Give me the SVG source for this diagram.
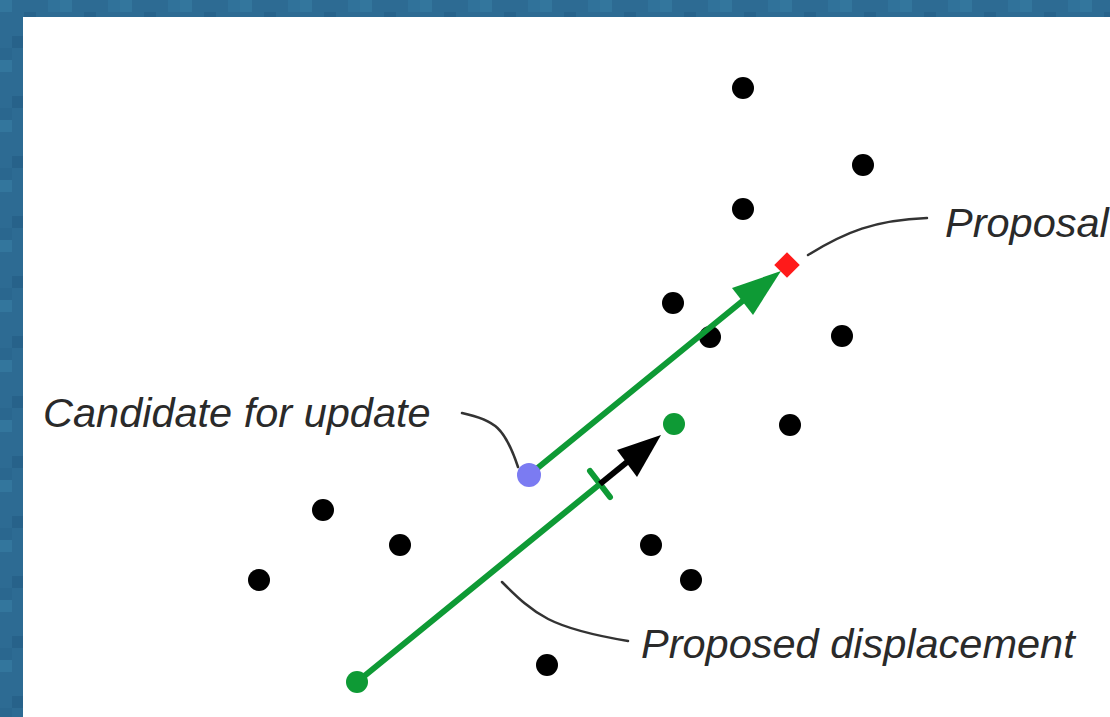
<svg xmlns="http://www.w3.org/2000/svg" width="1110" height="717" viewBox="0 0 1110 717">
<defs>
<pattern id="tex" width="60" height="60" patternUnits="userSpaceOnUse">
<rect width="60" height="60" fill="#2d6b93"/>
<rect x="0" y="0" width="12" height="12" fill="#33769d"/>
<rect x="24" y="12" width="12" height="12" fill="#28638b"/>
<rect x="48" y="0" width="12" height="12" fill="#30729a"/>
<rect x="12" y="36" width="12" height="12" fill="#27628a"/>
<rect x="36" y="36" width="12" height="12" fill="#3779a0"/>
<rect x="0" y="48" width="12" height="12" fill="#2a678f"/>
<rect x="48" y="24" width="12" height="12" fill="#25608a"/>
<rect x="24" y="48" width="12" height="12" fill="#32749b"/>
</pattern>
<style>
.dot{fill:#000}
.lbl{font-family:"Liberation Sans",Arial,sans-serif;font-style:italic;font-size:41.5px;fill:#2a2a2a}
.lead{fill:none;stroke:#333;stroke-width:2.5;stroke-linecap:round}
.gline{stroke:#0e9a35;stroke-width:6;stroke-linecap:round;fill:none}
</style>
</defs>
<rect width="1110" height="717" fill="url(#tex)"/>
<rect x="23" y="17" width="1087" height="700" fill="#fff"/>

<g id="points">
<circle class="dot" cx="743" cy="88" r="11"/>
<circle class="dot" cx="863" cy="165" r="11"/>
<circle class="dot" cx="743" cy="209" r="11"/>
<circle class="dot" cx="673" cy="303" r="11"/>
<circle class="dot" cx="710" cy="337" r="11"/>
<circle class="dot" cx="842" cy="336" r="11"/>
<circle class="dot" cx="790" cy="425" r="11"/>
<circle class="dot" cx="323" cy="510" r="11"/>
<circle class="dot" cx="400" cy="545" r="11"/>
<circle class="dot" cx="259" cy="580" r="11"/>
<circle class="dot" cx="651" cy="545" r="11"/>
<circle class="dot" cx="691" cy="580" r="11"/>
<circle class="dot" cx="547" cy="665" r="11"/>
</g>

<g id="connectors">
<line class="gline" x1="529" y1="475" x2="745" y2="299"/>
<polygon points="781,271 732,288 753,315" fill="#0e9a35"/>
<line class="gline" x1="357" y1="682" x2="600" y2="484"/>
<line x1="590" y1="471" x2="610" y2="497" stroke="#0e9a35" stroke-width="6" stroke-linecap="round"/>
<line x1="600" y1="484" x2="632" y2="458" stroke="#000" stroke-width="6"/>
<polygon points="661,435 617,450 637,477" fill="#000"/>
<path class="lead" d="M462,413 C495,420 505,428 518,467"/>
<path class="lead" d="M808,255 C845,232 875,220 927,218"/>
<path class="lead" d="M502,582 C535,615 550,628 628,641"/>
</g>

<g id="candidate">
<circle cx="529" cy="475" r="12" fill="#7b7bf2"/>
<text class="lbl" x="43" y="427">Candidate for update</text>
</g>
<g id="proposal">
<rect x="778" y="256" width="18" height="18" fill="#ff1a1a" transform="rotate(45 787 265)"/>
<text class="lbl" x="945" y="237">Proposal</text>
</g>
<g id="target">
<circle cx="674" cy="424" r="11" fill="#0e9a35"/>
</g>
<g id="start">
<circle cx="357" cy="682" r="11" fill="#0e9a35"/>
</g>
<g id="displacement">
<text class="lbl" x="641" y="658">Proposed displacement</text>
</g>
</svg>
